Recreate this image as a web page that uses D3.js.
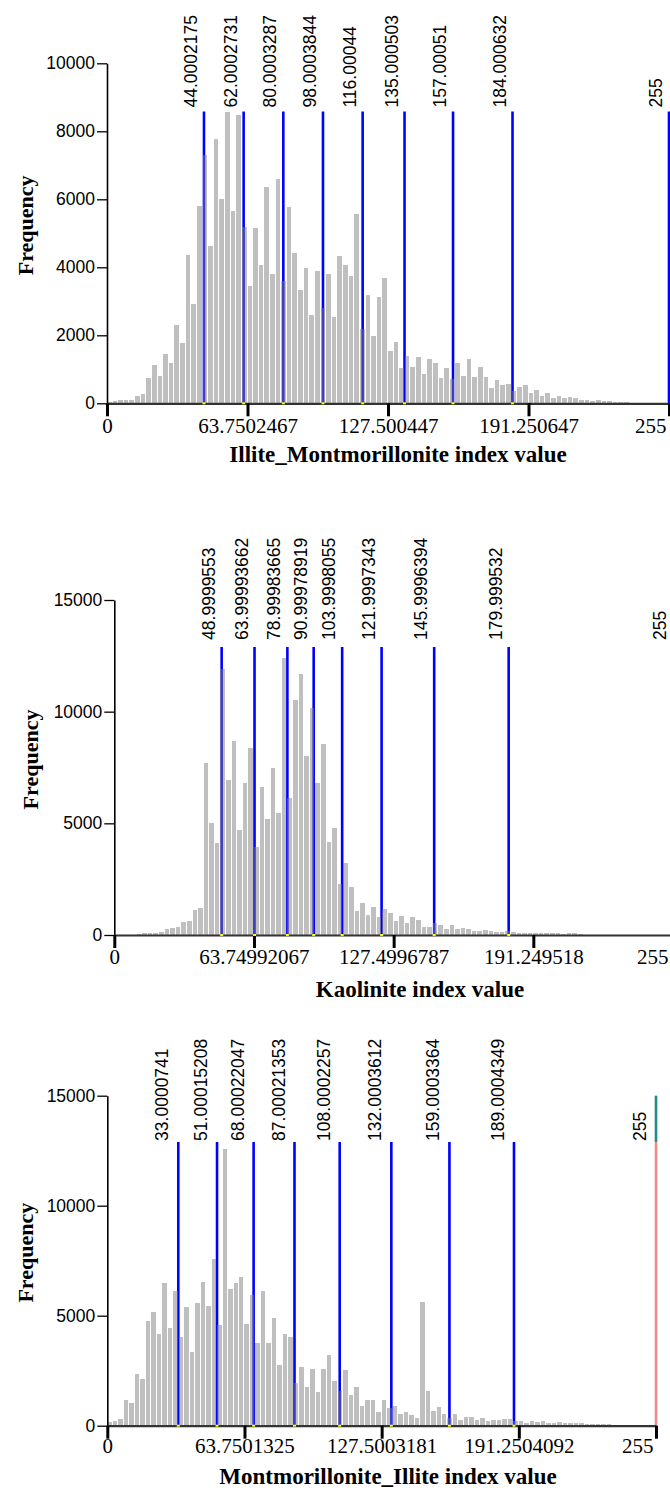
<!DOCTYPE html>
<html>
<head>
<meta charset="utf-8">
<script src="https://cdn.jsdelivr.net/npm/d3@7"></script>
<style>
  body { margin: 0; background: #fff; }
  svg { display: block; }
</style>
</head>
<body>
<div id="chart"></div>
<script>
// --- Data (100 bins over 0..255) ---
const countsIllMont = [
  40, 60, 90, 100, 110, 215, 275, 735, 1130, 810,
  1440, 1180, 2300, 1760, 4360, 2920, 5810, 7300, 4640, 7760,
  6000, 8570, 5650, 8480, 5190, 3450, 5145, 4070, 6370, 3790,
  6590, 3600, 5780, 4410, 3330, 3970, 2600, 3900, 2790, 3790,
  2530, 4330, 4070, 3740, 5560, 2180, 3200, 1990, 3120, 3700,
  1550, 1810, 1050, 1390, 1080, 1350, 860, 1310, 1180, 735,
  1050, 715, 1180, 810, 1310, 785, 1080, 765, 460, 690,
  540, 560, 370, 490, 540, 310, 390, 215, 310, 150,
  215, 170, 195, 150, 100, 100, 80, 100, 70, 70,
  50, 50, 50, 0, 0, 0, 0, 0, 0, 0
];
const countsKaol = [
  0, 0, 0, 20, 30, 70, 80, 100, 150, 250,
  300, 340, 570, 630, 1120, 1190, 7690, 5030, 4100, 11900,
  6940, 8700, 4700, 6820, 8360, 3960, 6610, 5180, 7500, 5450,
  12390, 6150, 10530, 11690, 8020, 10150, 6820, 8550, 4180, 4780,
  2270, 3240, 2130, 1090, 1450, 900, 1270, 790, 1150, 1000,
  640, 850, 520, 790, 670, 370, 370, 520, 450, 250,
  430, 250, 300, 250, 190, 190, 220, 180, 150, 150,
  180, 120, 100, 100, 100, 100, 75, 100, 75, 75,
  60, 75, 100, 60, 0, 0, 0, 0, 0, 0,
  0, 0, 0, 0, 0, 0, 0, 0, 0, 0
];
const countsMontIll = [
  180, 230, 290, 1170, 1050, 2350, 2120, 4760, 5150, 4150,
  6470, 4420, 6140, 4010, 5380, 3330, 5560, 6510, 5440, 7600,
  4580, 12560, 6200, 6470, 6740, 4620, 5920, 3740, 6140, 3740,
  4910, 2760, 4150, 4040, 1920, 2650, 1770, 2600, 1520, 2600,
  3210, 2050, 1580, 2530, 1390, 1770, 910, 1170, 1170, 640,
  1170, 790, 910, 515, 640, 480, 330, 5640, 1580, 680,
  830, 515, 330, 515, 260, 410, 410, 260, 330, 210,
  260, 260, 300, 290, 210, 230, 140, 210, 180, 210,
  110, 110, 150, 110, 110, 110, 110, 100, 100, 100,
  100, 100, 0, 0, 0, 0, 0, 0, 0, 0
];

// class breaks (labels as shown)
const breaksIllMont = ["44.0002175", "62.0002731", "80.0003287", "98.0003844", "116.00044", "135.000503", "157.00051", "184.000632", "255"];
const breaksKaol = ["48.9999553", "63.99993662", "78.99983665", "90.99978919", "103.9998055", "121.9997343", "145.9996394", "179.999532", "255"];
const breaksMontIll = ["33.0000741", "51.00015208", "68.00022047", "87.00021353", "108.0002257", "132.0003612", "159.0003364", "189.0004349", "255"];

// height of the break lines (frequency units)
const breakTops = [8580, 12900, 12900];

// axis ticks
const xTickValues = [0, 63.75, 127.5, 191.25, 255];
const xTicksIllMont = ["0", "63.7502467", "127.500447", "191.250647", "255"];
const xTicksKaol = ["0", "63.74992067", "127.4996787", "191.249518", "255"];
const xTicksMontIll = ["0", "63.7501325", "127.5003181", "191.2504092", "255"];
const yTicks10k = [0, 2000, 4000, 6000, 8000, 10000];
const yTicks15k = [0, 5000, 10000, 15000];

const xTitles = ["Illite_Montmorillonite index value", "Kaolinite index value", "Montmorillonite_Illite index value"];

// --- layout ---
const panels = [
  { counts: countsIllMont, breaks: breaksIllMont, top: breakTops[0], xTicks: xTicksIllMont, yTicks: yTicks10k,
    title: xTitles[0], x0: 107, x1: 669, y0: 403.3, yTop: 63.3, yMax: 10000,
    labelDx: 7, labelDy: 4, tickY: 30, titleX: 398, titleY: 462, freqX: 25, end: "blue" },
  { counts: countsKaol, breaks: breaksKaol, top: breakTops[1], xTicks: xTicksKaol, yTicks: yTicks15k,
    title: xTitles[1], x0: 114.3, x1: 673, y0: 935, yTop: 600, yMax: 15000,
    labelDx: 7, labelDy: 7, tickY: 29, titleX: 420, titleY: 997, freqX: 30, end: "blue" },
  { counts: countsMontIll, breaks: breaksMontIll, top: breakTops[2], xTicks: xTicksMontIll, yTicks: yTicks15k,
    title: xTitles[2], x0: 107.3, x1: 656, y0: 1425.7, yTop: 1095.7, yMax: 15000,
    labelDx: 10, labelDy: 1, tickY: 27, titleX: 388, titleY: 1484, freqX: 25, end: "pink" }
];

const svg = d3.select("#chart")
  .append("svg")
  .attr("width", 670)
  .attr("height", 1490);

panels.forEach(p => {
  const g = svg.append("g");

  const x = d3.scaleLinear().domain([0, 255]).range([p.x0, p.x1]);
  const y = d3.scaleLinear().domain([0, p.yMax]).range([p.y0, p.yTop]);
  const binW = 255 / p.counts.length;

  // break lines (drawn under the half transparent bars)
  const breakVals = p.breaks.map(d => +d);
  g.selectAll(".brk")
    .data(breakVals)
    .join("line")
    .attr("class", "brk")
    .attr("x1", d => x(d)).attr("x2", d => x(d))
    .attr("y1", y(0)).attr("y2", y(p.top))
    .attr("stroke", (d, i) => (i === breakVals.length - 1 && p.end === "pink") ? "#f08a8a" : "#0000ff")
    .attr("stroke-width", 2.6);

  if (p.end === "pink") {
    g.append("line")
      .attr("x1", x(255)).attr("x2", x(255))
      .attr("y1", y(p.top)).attr("y2", y(p.yMax))
      .attr("stroke", "#1f8b8b")
      .attr("stroke-width", 2.6);
  }

  // histogram bars
  g.selectAll(".bar")
    .data(p.counts)
    .join("rect")
    .attr("class", "bar")
    .attr("x", (d, i) => x(i * binW))
    .attr("width", x(binW) - x(0) - 1)
    .attr("y", d => y(d))
    .attr("height", d => y(0) - y(d))
    .attr("fill", "#808080")
    .attr("fill-opacity", 0.5)
    .attr("shape-rendering", "crispEdges");

  // y axis
  const yAxis = g.append("g")
    .attr("transform", `translate(${p.x0},0)`)
    .call(d3.axisLeft(y).tickValues(p.yTicks).tickFormat(d3.format("d"))
      .tickSize(10).tickSizeOuter(0).tickPadding(2));
  yAxis.select(".domain").attr("stroke", "#000").attr("stroke-width", 1.6);
  yAxis.selectAll(".tick line").attr("stroke", "#000").attr("stroke-width", 1.3);
  yAxis.selectAll("text")
    .attr("fill", "#000")
    .style("font-family", "'Liberation Sans', Arial, sans-serif")
    .style("font-size", "17.5px");

  // x axis
  const xAxis = g.append("g")
    .attr("transform", `translate(0,${p.y0})`)
    .call(d3.axisBottom(x).tickValues(xTickValues).tickFormat((d, i) => p.xTicks[i])
      .tickSize(13).tickSizeOuter(0));
  xAxis.select(".domain").attr("stroke", "#333").attr("stroke-width", 2.2);
  xAxis.selectAll(".tick line").attr("stroke", "#000").attr("stroke-width", 3);
  xAxis.selectAll("text")
    .attr("y", p.tickY).attr("dy", 0)
    .attr("fill", "#000")
    .style("font-family", "'Liberation Serif', 'Times New Roman', serif")
    .style("font-size", "21px");
  const lastX = x(255);
  xAxis.selectAll(".tick").filter(d => d === 255).select("text")
    .attr("text-anchor", "end")
    .attr("x", Math.min(lastX - 3, 668) - lastX);

  // small yellow marks at the foot of each break line
  g.selectAll(".foot")
    .data(breakVals.slice(0, -1))
    .join("rect")
    .attr("class", "foot")
    .attr("x", d => x(d) - 1.5)
    .attr("y", p.y0 - 1)
    .attr("width", 3).attr("height", 2)
    .attr("fill", "#ffff00");

  // break labels
  g.selectAll(".brk-label")
    .data(p.breaks)
    .join("text")
    .attr("class", "brk-label")
    .attr("transform", d => `translate(${x(+d) - p.labelDx},${y(p.top) - p.labelDy}) rotate(-90)`)
    .attr("text-anchor", "start")
    .attr("fill", "#000")
    .style("font-family", "'Liberation Sans', Arial, sans-serif")
    .style("font-size", "17.5px")
    .text(d => d);

  // titles
  g.append("text")
    .attr("x", p.titleX).attr("y", p.titleY)
    .attr("text-anchor", "middle")
    .style("font-family", "'Liberation Serif', 'Times New Roman', serif")
    .style("font-weight", "bold")
    .style("font-size", "23px")
    .text(p.title);

  g.append("text")
    .attr("transform", `translate(${p.freqX},${(p.y0 + p.yTop) / 2 - 8}) rotate(-90)`)
    .attr("text-anchor", "middle")
    .attr("dy", "0.35em")
    .style("font-family", "'Liberation Serif', 'Times New Roman', serif")
    .style("font-weight", "bold")
    .style("font-size", "22px")
    .text("Frequency");
});
</script>
</body>
</html>
